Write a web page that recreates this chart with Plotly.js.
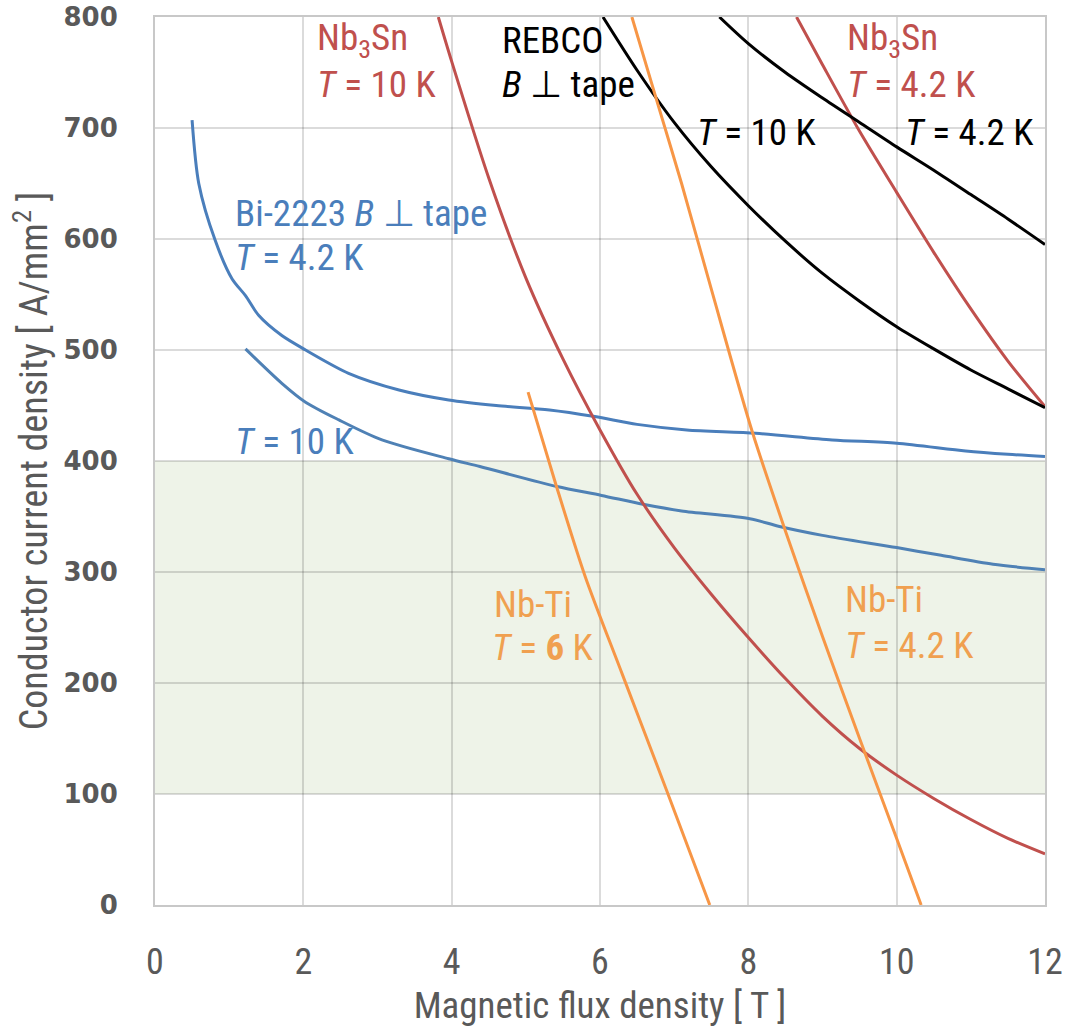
<!DOCTYPE html>
<html>
<head>
<meta charset="utf-8">
<script src="https://cdn.plot.ly/plotly-3.0.1.min.js"></script>
<style>
  html, body { margin: 0; padding: 0; background: #ffffff; }
  #chart { width: 1068px; height: 1027px; }
</style>
</head>
<body>
<div id="chart"></div>
<script>
// ---- Data ----
// Bi-2223, B perpendicular to tape, T = 4.2 K
const bi4_x = [0.50, 0.59, 0.81, 1.04, 1.22, 1.40, 1.71, 2.03, 2.61, 3.29, 3.96, 4.60, 5.32, 5.93, 6.50, 7.17, 8.10, 9.13, 10.00, 10.93, 11.50, 12.00];
const bi4_y = [707, 650, 599, 564, 549, 531, 513, 500, 479, 464, 455, 450, 446, 440, 433, 428, 425, 419, 416, 409, 406, 404];
// Bi-2223, T = 10 K
const bi10_x = [1.22, 1.71, 2.03, 2.48, 3.06, 3.96, 4.38, 5.42, 6.02, 6.58, 7.10, 8.02, 8.42, 9.00, 10.00, 10.60, 11.30, 12.00];
const bi10_y = [501, 470, 453, 437, 419, 402, 395, 377, 369, 361, 355, 348, 341, 333, 322, 315, 307, 302];
// Nb3Sn, T = 10 K
const nb3sn10_x = [3.82, 4.00, 4.50, 5.00, 5.50, 6.00, 6.50, 7.00, 7.50, 8.00, 8.50, 9.00, 9.50, 10.00, 10.50, 11.00, 11.50, 12.00];
const nb3sn10_y = [800, 760, 655, 565, 492, 428, 370, 322, 280, 241, 204, 170, 141, 117, 96, 77, 60, 46];
// Nb3Sn, T = 4.2 K
const nb3sn4_x = [8.65, 9.00, 9.50, 10.00, 10.50, 11.00, 11.50, 12.00];
const nb3sn4_y = [800, 757, 697, 642, 588, 537, 490, 449];
// REBCO, B perpendicular to tape, T = 10 K
const rebco10_x = [6.04, 6.50, 7.00, 7.50, 8.00, 8.50, 9.00, 9.50, 10.00, 10.50, 11.00, 11.50, 12.00];
const rebco10_y = [800, 752, 705, 665, 630, 598, 569, 544, 521, 501, 482, 465, 448];
// REBCO, T = 4.2 K
const rebco4_x = [7.61, 8.00, 8.50, 9.00, 9.50, 10.00, 10.50, 11.00, 11.50, 12.00];
const rebco4_y = [800, 776, 750, 727, 705, 683, 662, 640, 618, 595];
// Nb-Ti, T = 6 K
const nbti6_x = [5.03, 5.40, 5.80, 6.30, 6.90, 7.48];
const nbti6_y = [462, 380, 296, 208, 103, 0];
// Nb-Ti, T = 4.2 K
const nbti4_x = [6.43, 6.80, 7.10, 7.50, 8.05, 8.50, 9.00, 9.50, 10.00, 10.33];
const nbti4_y = [800, 717, 650, 555, 427, 337, 242, 150, 60, 0];
// Shaded operating band (current density range)
const band_x = [0, 12];
const band_y = [100, 400];
// Axis ticks
const x_ticks = [0, 2, 4, 6, 8, 10, 12];
const y_ticks = [0, 100, 200, 300, 400, 500, 600, 700, 800];

// ---- Styles ----
const BLUE = '#4a7ebb', RED = '#c0504d', BLACK = '#000000', ORANGE = '#f79646';
const ORANGE_TXT = '#f0a050';
const NARROW = '"Liberation Sans Narrow", "Arial Narrow", "Roboto Condensed", Roboto, sans-serif';

function line(x, y, color) {
  return { x: x, y: y, type: 'scatter', mode: 'lines', hoverinfo: 'skip',
           line: { color: color, width: 3, shape: 'spline', smoothing: 0.8 }, showlegend: false };
}

const traces = [
  line(bi4_x, bi4_y, BLUE),
  line(bi10_x, bi10_y, '#4f81b5'),
  line(nb3sn10_x, nb3sn10_y, RED),
  line(nb3sn4_x, nb3sn4_y, RED),
  line(rebco10_x, rebco10_y, BLACK),
  line(rebco4_x, rebco4_y, BLACK),
  line(nbti6_x, nbti6_y, ORANGE),
  line(nbti4_x, nbti4_y, ORANGE)
];

function label(x, y, text, color) {
  return { x: x, y: y, xref: 'x', yref: 'y', text: text, showarrow: false,
           xanchor: 'left', yanchor: 'middle',
           font: { family: NARROW, size: 37, color: color } };
}

const annotations = [
  label(2.16, 779, 'Nb<sub>3</sub>Sn', RED),
  label(2.16, 739, '<i>T</i> = 10 K', RED),
  label(4.65, 779, 'REBCO', BLACK),
  label(4.65, 739, '<i>B</i> ⊥ tape', BLACK),
  label(7.28, 696, '<i>T</i> = 10 K', BLACK),
  label(10.08, 696, '<i>T</i> = 4.2 K', BLACK),
  label(9.30, 779, 'Nb<sub>3</sub>Sn', RED),
  label(9.30, 739, '<i>T</i> = 4.2 K', RED),
  label(1.05, 623, 'Bi-2223 <i>B</i> ⊥ tape', BLUE),
  label(1.05, 583, '<i>T</i> = 4.2 K', BLUE),
  label(1.05, 418, '<i>T</i> = 10 K', BLUE),
  label(4.54, 271, 'Nb-Ti', ORANGE_TXT),
  label(4.52, 232, '<i>T</i> = <b>6</b> K', ORANGE_TXT),
  label(9.28, 275, 'Nb-Ti', ORANGE_TXT),
  label(9.28, 234, '<i>T</i> = 4.2 K', ORANGE_TXT)
];

const layout = {
  width: 1068, height: 1027,
  margin: { l: 155, r: 23, t: 17, b: 122 },
  paper_bgcolor: '#ffffff', plot_bgcolor: '#ffffff',
  showlegend: false,
  xaxis: {
    range: [0, 12], tickvals: x_ticks, ticktext: x_ticks.map(String),
    showgrid: true, gridcolor: 'rgba(0,0,0,0.14)', gridwidth: 2,
    showline: true, linecolor: '#c8c8c8', linewidth: 2, mirror: true,
    zeroline: false, ticks: '', ticklabelstandoff: 24,
    tickfont: { family: NARROW, size: 36, color: '#595959' },
    title: { text: 'Magnetic flux density [ T ]', standoff: 14,
             font: { family: NARROW, size: 37, color: '#595959' } },
    automargin: false, fixedrange: true
  },
  yaxis: {
    range: [0, 800], tickvals: y_ticks, ticktext: y_ticks.map(String),
    showgrid: true, gridcolor: 'rgba(0,0,0,0.14)', gridwidth: 2,
    showline: true, linecolor: '#c8c8c8', linewidth: 2, mirror: true,
    zeroline: false, ticks: '', ticklabelstandoff: 30,
    tickfont: { family: 'DejaVu Sans', size: 26, color: '#595959', weight: 'bold' },
    title: { text: 'Conductor current density [ A/mm<sup>2</sup> ]', standoff: 4,
             font: { family: NARROW, size: 38, color: '#595959' } },
    automargin: false, fixedrange: true
  },
  shapes: [{
    type: 'rect', xref: 'x', yref: 'y', layer: 'below',
    x0: band_x[0], x1: band_x[1], y0: band_y[0], y1: band_y[1],
    fillcolor: '#eef3e8', line: { width: 0 }
  }],
  annotations: annotations
};

Plotly.newPlot('chart', traces, layout, { staticPlot: true, displayModeBar: false });
</script>
</body>
</html>
